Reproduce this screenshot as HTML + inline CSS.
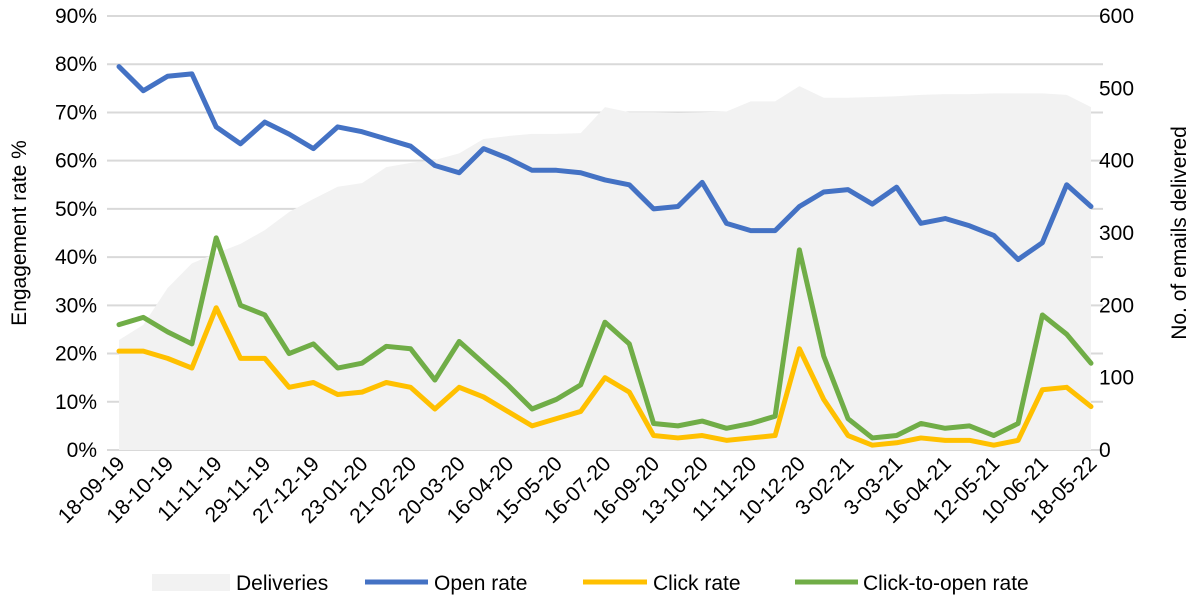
<!DOCTYPE html>
<html><head><meta charset="utf-8"><style>
body{margin:0;background:#fff;font-family:"Liberation Sans",Arial,sans-serif}
svg text{font-family:"Liberation Sans",Arial,sans-serif;fill:#000}
</style></head><body>
<svg id="chart" width="1195" height="600" xmlns="http://www.w3.org/2000/svg">
<g id="grid"></g>
<g id="area"></g>
<g id="lines"></g>
<g id="axes"></g>
<text transform="translate(26,233) rotate(-90)" text-anchor="middle" font-size="21">Engagement rate %</text>
<text transform="translate(1186,233) rotate(-90)" text-anchor="middle" font-size="21">No. of emails delivered</text>
<g font-size="21">
<g><rect x="152" y="574" width="78" height="17" fill="#f2f2f2"/><text x="236" y="590">Deliveries</text></g>
<g><line x1="365" y1="582" x2="428" y2="582" stroke="#4472c4" stroke-width="5"/><text x="434" y="590">Open rate</text></g>
<g><line x1="583" y1="582" x2="647" y2="582" stroke="#ffc000" stroke-width="5"/><text x="653" y="590">Click rate</text></g>
<g><line x1="795" y1="582" x2="858" y2="582" stroke="#70ad47" stroke-width="5"/><text x="863" y="590">Click-to-open rate</text></g>
</g>
</svg>
<script>
const tickLabels=["18-09-19","18-10-19","11-11-19","29-11-19","27-12-19","23-01-20","21-02-20","20-03-20","16-04-20","15-05-20","16-07-20","16-09-20","13-10-20","11-11-20","10-12-20","3-02-21","3-03-21","16-04-21","12-05-21","10-06-21","18-05-22"];
const openRate=[79.5,74.5,77.5,78,67,63.5,68,65.5,62.5,67,66,64.5,63,59,57.5,62.5,60.5,58,58,57.5,56,55,50,50.5,55.5,47,45.5,45.5,50.5,53.5,54,51,54.5,47,48,46.5,44.5,39.5,43,55,50.5];
const clickRate=[20.5,20.5,19,17,29.5,19,19,13,14,11.5,12,14,13,8.5,13,11,8,5,6.5,8,15,12,3,2.5,3,2,2.5,3,21,10.5,3,1,1.5,2.5,2,2,1,2,12.5,13,9];
const ctoRate=[26,27.5,24.5,22,44,30,28,20,22,17,18,21.5,21,14.5,22.5,18,13.5,8.5,10.5,13.5,26.5,22,5.5,5,6,4.5,5.5,7,41.5,19.5,6.5,2.5,3,5.5,4.5,5,3,5.5,28,24,18];
const deliveries=[152,173,224,258,272,285,304,329,347,364,369,391,397,401,410,430,434,437,437,438,474,467,467,466,467,468,482,482,503,487,487,488,489,491,492,492,493,493,493,491,474];
const leftTicks=[0,10,20,30,40,50,60,70,80,90];
const rightTicks=[0,100,200,300,400,500,600];
const NS="http://www.w3.org/2000/svg";
const X0=119,X1=1091,Y0=450,Y1=16,GL=107,GR=1103;
const xs=i=>X0+(X1-X0)*i/(openRate.length-1);
const yL=v=>Y0-(Y0-Y1)*v/90;
const yR=v=>Y0-(Y0-Y1)*v/600;
function mk(tag,attrs,parent){const e=document.createElementNS(NS,tag);for(const k in attrs)e.setAttribute(k,attrs[k]);parent.appendChild(e);return e;}
const grid=document.getElementById('grid'),axes=document.getElementById('axes');
leftTicks.forEach(t=>{
 const l=mk('line',{x1:GL,x2:GR,y1:yL(t),y2:yL(t),stroke:'#d9d9d9','stroke-width':2},grid);
 
 
 const tx=mk('text',{x:97,y:yL(t)+7,'text-anchor':'end','font-size':21},axes);
 tx.textContent=t+'%';
 
 
});
rightTicks.forEach(t=>{
 const tx=mk('text',{x:1099,y:yR(t)+7,'font-size':21},axes);
 tx.textContent=t;
 
 
});
tickLabels.forEach((s,j)=>{
 const x=xs(j*2);
 const tx=mk('text',{transform:`translate(${x+7},${Y0+15}) rotate(-45)`,'text-anchor':'end','font-size':21},axes);
 tx.textContent=s;
 
 
});
let d=`M${xs(0)},${Y0}`;deliveries.forEach((v,i)=>d+=`L${xs(i)},${yR(v)}`);d+=`L${xs(deliveries.length-1)},${Y0}Z`;
const a=mk('path',{d,fill:'#f2f2f2'},document.getElementById('area'));


mk('line',{x1:GL,x2:GR,y1:Y0,y2:Y0,stroke:'#d9d9d9','stroke-width':2},grid);
const lines=document.getElementById('lines');
[[openRate,'#4472c4','open-rate-line'],[clickRate,'#ffc000','click-rate-line'],[ctoRate,'#70ad47','click-to-open-rate-line']].forEach(([arr,c,n])=>{
 const p=mk('polyline',{points:arr.map((v,i)=>xs(i)+','+yL(v)).join(' '),fill:'none',stroke:c,'stroke-width':5,'stroke-linejoin':'round','stroke-linecap':'round'},lines);
 
 
});
</script>
</body></html>
